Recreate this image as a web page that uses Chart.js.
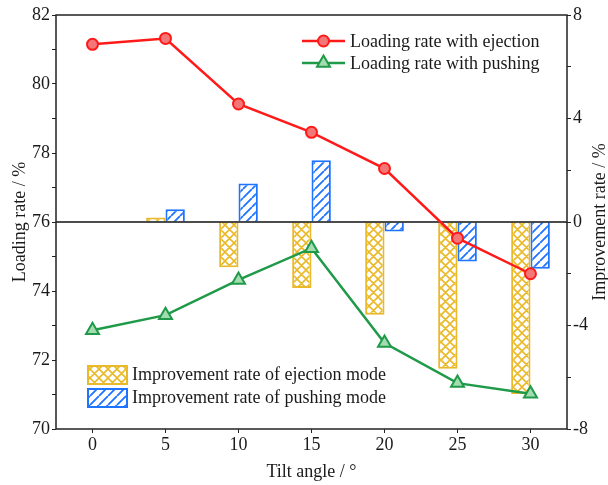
<!DOCTYPE html>
<html>
<head>
<meta charset="utf-8">
<script src="https://cdn.jsdelivr.net/npm/chart.js@4"></script>
<style>
  body { margin: 0; background: #fff; }
  canvas { display: block; }
</style>
</head>
<body>
<canvas id="myChart" width="608" height="485"></canvas>
<script>
// data
var tiltAngles = [0, 5, 10, 15, 20, 25, 30];
var ejectionRate = [81.15, 81.32, 79.42, 78.6, 77.55, 75.53, 74.5];
var pushingRate = [72.86, 73.3, 74.32, 75.24, 72.49, 71.33, 71.02];
var ejectionImprove = [0, 0.17, -1.75, -2.55, -3.58, -5.67, -6.65];
var pushingImprove = [0, 0.49, 1.49, 2.39, -0.37, -1.53, -1.81];

var leftTicks = [70, 71, 72, 73, 74, 75, 76, 77, 78, 79, 80, 81, 82];
var rightTicks = [-8, -6, -4, -2, 0, 2, 4, 6, 8];

var FONT = '"Liberation Serif", "Times New Roman", serif';
var TEXT = '#1a1a1a';
var RED = '#ff1a1a', RED_FILL = '#f47777';
var GREEN = '#1f9a48', GREEN_FILL = '#a3dcb0';
var YELLOW = '#e9b92a', BLUE = '#1e73ff';

var canvas = document.getElementById('myChart');
var ctx = canvas.getContext('2d');

function crossHatch(color) {
    var c = document.createElement('canvas');
    c.width = 9; c.height = 9;
    var g = c.getContext('2d');
    g.fillStyle = '#fff';
    g.fillRect(0, 0, 9, 9);
    g.strokeStyle = color;
    g.lineWidth = 1.6;
    g.beginPath();
    for (var k = -9; k <= 9; k += 9) {
        g.moveTo(k, 0); g.lineTo(k + 9, 9);
        g.moveTo(k + 9, 0); g.lineTo(k, 9);
    }
    g.stroke();
    return ctx.createPattern(c, 'repeat');
}

function slashHatch(color) {
    var c = document.createElement('canvas');
    c.width = 9; c.height = 9;
    var g = c.getContext('2d');
    g.fillStyle = '#fff';
    g.fillRect(0, 0, 9, 9);
    g.strokeStyle = color;
    g.lineWidth = 1.8;
    g.beginPath();
    for (var k = -9; k <= 9; k += 9) {
        g.moveTo(k, 9); g.lineTo(k + 9, 0);
    }
    g.stroke();
    return ctx.createPattern(c, 'repeat');
}

var yellowPattern = crossHatch(YELLOW);
var bluePattern = slashHatch(BLUE);

function toPoints(values) {
    var pts = [];
    for (var i = 0; i < tiltAngles.length; i++) {
        pts.push({x: tiltAngles[i], y: values[i]});
    }
    return pts;
}

// zero line goes over the bars but under the lines
var zeroLine = {
    id: 'zeroLine',
    beforeDatasetsDraw: function(chart) { chart.$zeroDone = false; },
    beforeDatasetDraw: function(chart, args) {
        if (chart.$zeroDone || args.meta.type !== 'line') return;
        chart.$zeroDone = true;
        var a = chart.chartArea;
        var y = chart.scales.y1.getPixelForValue(0);
        var c = chart.ctx;
        c.save();
        c.strokeStyle = '#111';
        c.lineWidth = 1.5;
        c.beginPath();
        c.moveTo(a.left, y);
        c.lineTo(a.right, y);
        c.stroke();
        c.restore();
    }
};

var decorations = {
    id: 'decorations',
    afterDraw: function(chart) {
        var c = chart.ctx;
        var a = chart.chartArea;
        c.save();
        // frame
        c.strokeStyle = '#222';
        c.lineWidth = 1.5;
        c.strokeRect(a.left, a.top, a.right - a.left, a.bottom - a.top);

        // axis titles
        c.fillStyle = TEXT;
        c.font = '18px ' + FONT;
        c.textAlign = 'center';
        c.textBaseline = 'middle';
        var midY = (a.top + a.bottom) / 2;
        c.save();
        c.translate(20, midY);
        c.rotate(-Math.PI / 2);
        c.fillText('Loading rate / %', 0, 0);
        c.restore();
        c.save();
        c.translate(600, midY);
        c.rotate(-Math.PI / 2);
        c.fillText('Improvement rate / %', 0, 0);
        c.restore();
        c.fillText('Tilt angle / \u00b0', (a.left + a.right) / 2, 472);

        // legend for the lines (top right)
        c.textAlign = 'left';
        var rows = [
            {y: 41, color: RED, fill: RED_FILL, shape: 'circle', text: 'Loading rate with ejection'},
            {y: 63, color: GREEN, fill: GREEN_FILL, shape: 'triangle', text: 'Loading rate with pushing'}
        ];
        rows.forEach(function(r) {
            c.strokeStyle = r.color;
            c.lineWidth = 2.5;
            c.beginPath();
            c.moveTo(302, r.y);
            c.lineTo(345, r.y);
            c.stroke();
            c.fillStyle = r.fill;
            c.lineWidth = 2;
            c.beginPath();
            if (r.shape === 'circle') {
                c.arc(323.5, r.y, 5.5, 0, Math.PI * 2);
            } else {
                var rad = 7.5;
                c.moveTo(323.5, r.y - rad);
                c.lineTo(323.5 + rad * 0.866, r.y + rad * 0.5);
                c.lineTo(323.5 - rad * 0.866, r.y + rad * 0.5);
                c.closePath();
            }
            c.fill();
            c.stroke();
            c.fillStyle = TEXT;
            c.fillText(r.text, 350, r.y + 1);
        });

        // legend for the bars (bottom left)
        var boxes = [
            {y: 365, fill: yellowPattern, color: YELLOW, text: 'Improvement rate of ejection mode'},
            {y: 388, fill: bluePattern, color: BLUE, text: 'Improvement rate of pushing mode'}
        ];
        boxes.forEach(function(b) {
            c.fillStyle = b.fill;
            c.fillRect(87, b.y, 41, 20);
            c.strokeStyle = b.color;
            c.lineWidth = 2;
            c.strokeRect(88, b.y + 1, 39, 18);
            c.fillStyle = TEXT;
            c.fillText(b.text, 132, b.y + 10);
        });
        c.restore();
    }
};

Chart.defaults.font.family = FONT;
Chart.defaults.color = TEXT;

var chart = new Chart(ctx, {
    type: 'bar',
    data: {
        datasets: [
            {
                type: 'line',
                label: 'Loading rate with ejection',
                data: toPoints(ejectionRate),
                yAxisID: 'y',
                order: 1,
                borderColor: RED,
                borderWidth: 2.5,
                pointStyle: 'circle',
                pointRadius: 5.5,
                pointBorderWidth: 2,
                pointBackgroundColor: RED_FILL,
                pointBorderColor: RED,
                tension: 0
            },
            {
                type: 'line',
                label: 'Loading rate with pushing',
                data: toPoints(pushingRate),
                yAxisID: 'y',
                order: 1,
                borderColor: GREEN,
                borderWidth: 2.5,
                pointStyle: 'triangle',
                pointRadius: 7.5,
                pointBorderWidth: 2,
                pointBackgroundColor: GREEN_FILL,
                pointBorderColor: GREEN,
                tension: 0
            },
            {
                type: 'bar',
                label: 'Improvement rate of ejection mode',
                data: toPoints(ejectionImprove),
                yAxisID: 'y1',
                order: 2,
                backgroundColor: yellowPattern,
                borderColor: YELLOW,
                borderWidth: 2,
                categoryPercentage: 0.53,
                barPercentage: 1.0
            },
            {
                type: 'bar',
                label: 'Improvement rate of pushing mode',
                data: toPoints(pushingImprove),
                yAxisID: 'y1',
                order: 2,
                backgroundColor: bluePattern,
                borderColor: BLUE,
                borderWidth: 2,
                categoryPercentage: 0.53,
                barPercentage: 1.0
            }
        ]
    },
    options: {
        responsive: false,
        animation: false,
        layout: { padding: { top: 15, left: 0, right: 0, bottom: 0 } },
        plugins: {
            legend: { display: false },
            tooltip: { enabled: false }
        },
        scales: {
            x: {
                type: 'linear',
                min: -2.5,
                max: 32.5,
                offset: false,
                afterBuildTicks: function(scale) {
                    scale.ticks = tiltAngles.map(function(v) { return {value: v}; });
                },
                afterFit: function(scale) { scale.height = 56; },
                ticks: { font: { size: 18 }, padding: 1, autoSkip: false, maxRotation: 0 },
                grid: { offset: false, drawOnChartArea: false, tickLength: 4, color: '#222' },
                border: { display: false }
            },
            y: {
                type: 'linear',
                position: 'left',
                min: 70,
                max: 82,
                afterBuildTicks: function(scale) {
                    scale.ticks = leftTicks.map(function(v) { return {value: v}; });
                },
                afterFit: function(scale) { scale.width = 56; },
                ticks: {
                    font: { size: 18 },
                    padding: 2,
                    autoSkip: false,
                    callback: function(v) { return v % 2 === 0 ? String(v) : ''; }
                },
                grid: { drawOnChartArea: false, tickLength: 4, color: '#222' },
                border: { display: false }
            },
            y1: {
                type: 'linear',
                position: 'right',
                min: -8,
                max: 8,
                afterBuildTicks: function(scale) {
                    scale.ticks = rightTicks.map(function(v) { return {value: v}; });
                },
                afterFit: function(scale) { scale.width = 41; },
                ticks: {
                    font: { size: 18 },
                    padding: 2,
                    autoSkip: false,
                    callback: function(v) { return v % 4 === 0 ? String(v) : ''; }
                },
                grid: { drawOnChartArea: false, tickLength: 4, color: '#222' },
                border: { display: false }
            }
        }
    },
    plugins: [zeroLine, decorations]
});
</script>
</body>
</html>
